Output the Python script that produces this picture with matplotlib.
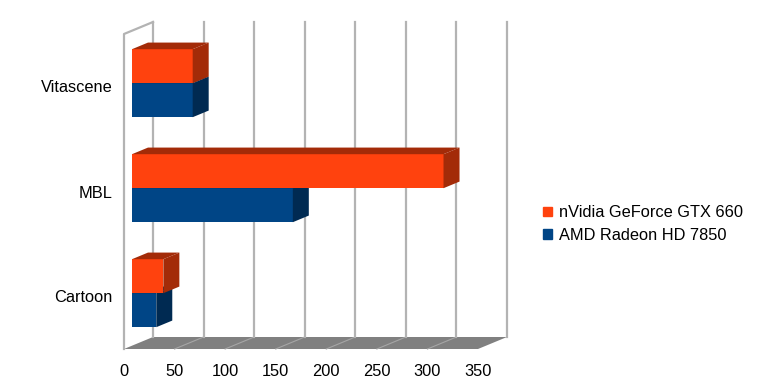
import matplotlib
matplotlib.use("Agg")
import matplotlib.pyplot as plt
import matplotlib.patches as mpatches
from matplotlib.lines import Line2D

categories = ["Cartoon", "MBL", "Vitascene"]
nvidia = [31, 308, 60]
amd = [24, 159, 60]
series_names = ["nVidia GeForce GTX 660", "AMD Radeon HD 7850"]
xticks = [0, 50, 100, 150, 200, 250, 300, 350]

orange, orange_dark = "#ff420e", "#a32b08"
blue, blue_dark = "#004586", "#002a52"
wall = "#b3b3b3"

plt.rcParams["font.family"] = ["Liberation Sans", "DejaVu Sans"]
plt.rcParams["font.size"] = 11.8

W, H = 769, 391
fig = plt.figure(figsize=(W / 100, H / 100), dpi=100)
ax = fig.add_axes([124 / W, 42 / H, 354 / W, 315 / H])
xmax = xticks[-1]
ax.set_xlim(0, xmax)
ax.set_ylim(-0.5, len(categories) - 0.5)

# depth offset of the back plane, in pixels -> data units
sx = 354 / xmax
sy = 315 / len(categories)
dx, dy = 29 / sx, 12 / sy
f0, f1 = 8 / 29, 24 / 29   # bar front / back depth
bh = 34 / sy               # bar thickness

y0, y1 = -0.5, len(categories) - 0.5

# floor
ax.add_patch(mpatches.Polygon([(0, y0), (xmax, y0), (xmax + dx, y0 + dy), (dx, y0 + dy)],
                              closed=True, fc="#808080", ec="none", zorder=1, clip_on=False))
for t in xticks[1:-1]:
    ax.add_line(Line2D([t, t + dx], [y0, y0 + dy], color="#a6a6a6", lw=0.8,
                       zorder=1.5, clip_on=False))

# back wall grid lines
for t in xticks:
    ax.add_line(Line2D([t + dx, t + dx], [y0 + dy, y1 + dy], color=wall, lw=1.6,
                       zorder=2, clip_on=False))
# left wall
ax.add_line(Line2D([0, 0, dx], [y0, y1, y1 + dy], color=wall, lw=1.6,
                   zorder=2, clip_on=False))


def bar3d(v, ybot, face, dark):
    xa, ya = f0 * dx, ybot + f0 * dy
    ax.barh(ya + bh / 2, v, height=bh, left=xa, color=face, zorder=3)
    top = [(xa, ya + bh), (xa + v, ya + bh), (v + f1 * dx, ybot + bh + f1 * dy), (f1 * dx, ybot + bh + f1 * dy)]
    side = [(xa + v, ya), (xa + v, ya + bh), (v + f1 * dx, ybot + bh + f1 * dy), (v + f1 * dx, ybot + f1 * dy)]
    ax.add_patch(mpatches.Polygon(top, closed=True, fc=dark, ec="none", zorder=3, clip_on=False))
    ax.add_patch(mpatches.Polygon(side, closed=True, fc=dark, ec="none", zorder=3, clip_on=False))


for i in range(len(categories)):
    bar3d(amd[i], i - bh, blue, blue_dark)
    bar3d(nvidia[i], i, orange, orange_dark)

for s in ax.spines.values():
    s.set_visible(False)
ax.set_xticks(xticks)
ax.set_yticks(range(len(categories)))
ax.set_yticklabels(categories)
ax.tick_params(axis="x", length=0, pad=11)
ax.tick_params(axis="y", length=0, pad=8.5)

patches = [
    mpatches.Patch(color=orange, label=series_names[0]),
    mpatches.Patch(color=blue, label=series_names[1]),
]
fig.legend(handles=patches, loc="center left", bbox_to_anchor=(536 / W, 1 - 224 / H),
           frameon=False, handlelength=0.55, handleheight=0.55, handletextpad=0.45,
           labelspacing=0.45, borderaxespad=0)

fig.savefig("out.png", dpi=100)
